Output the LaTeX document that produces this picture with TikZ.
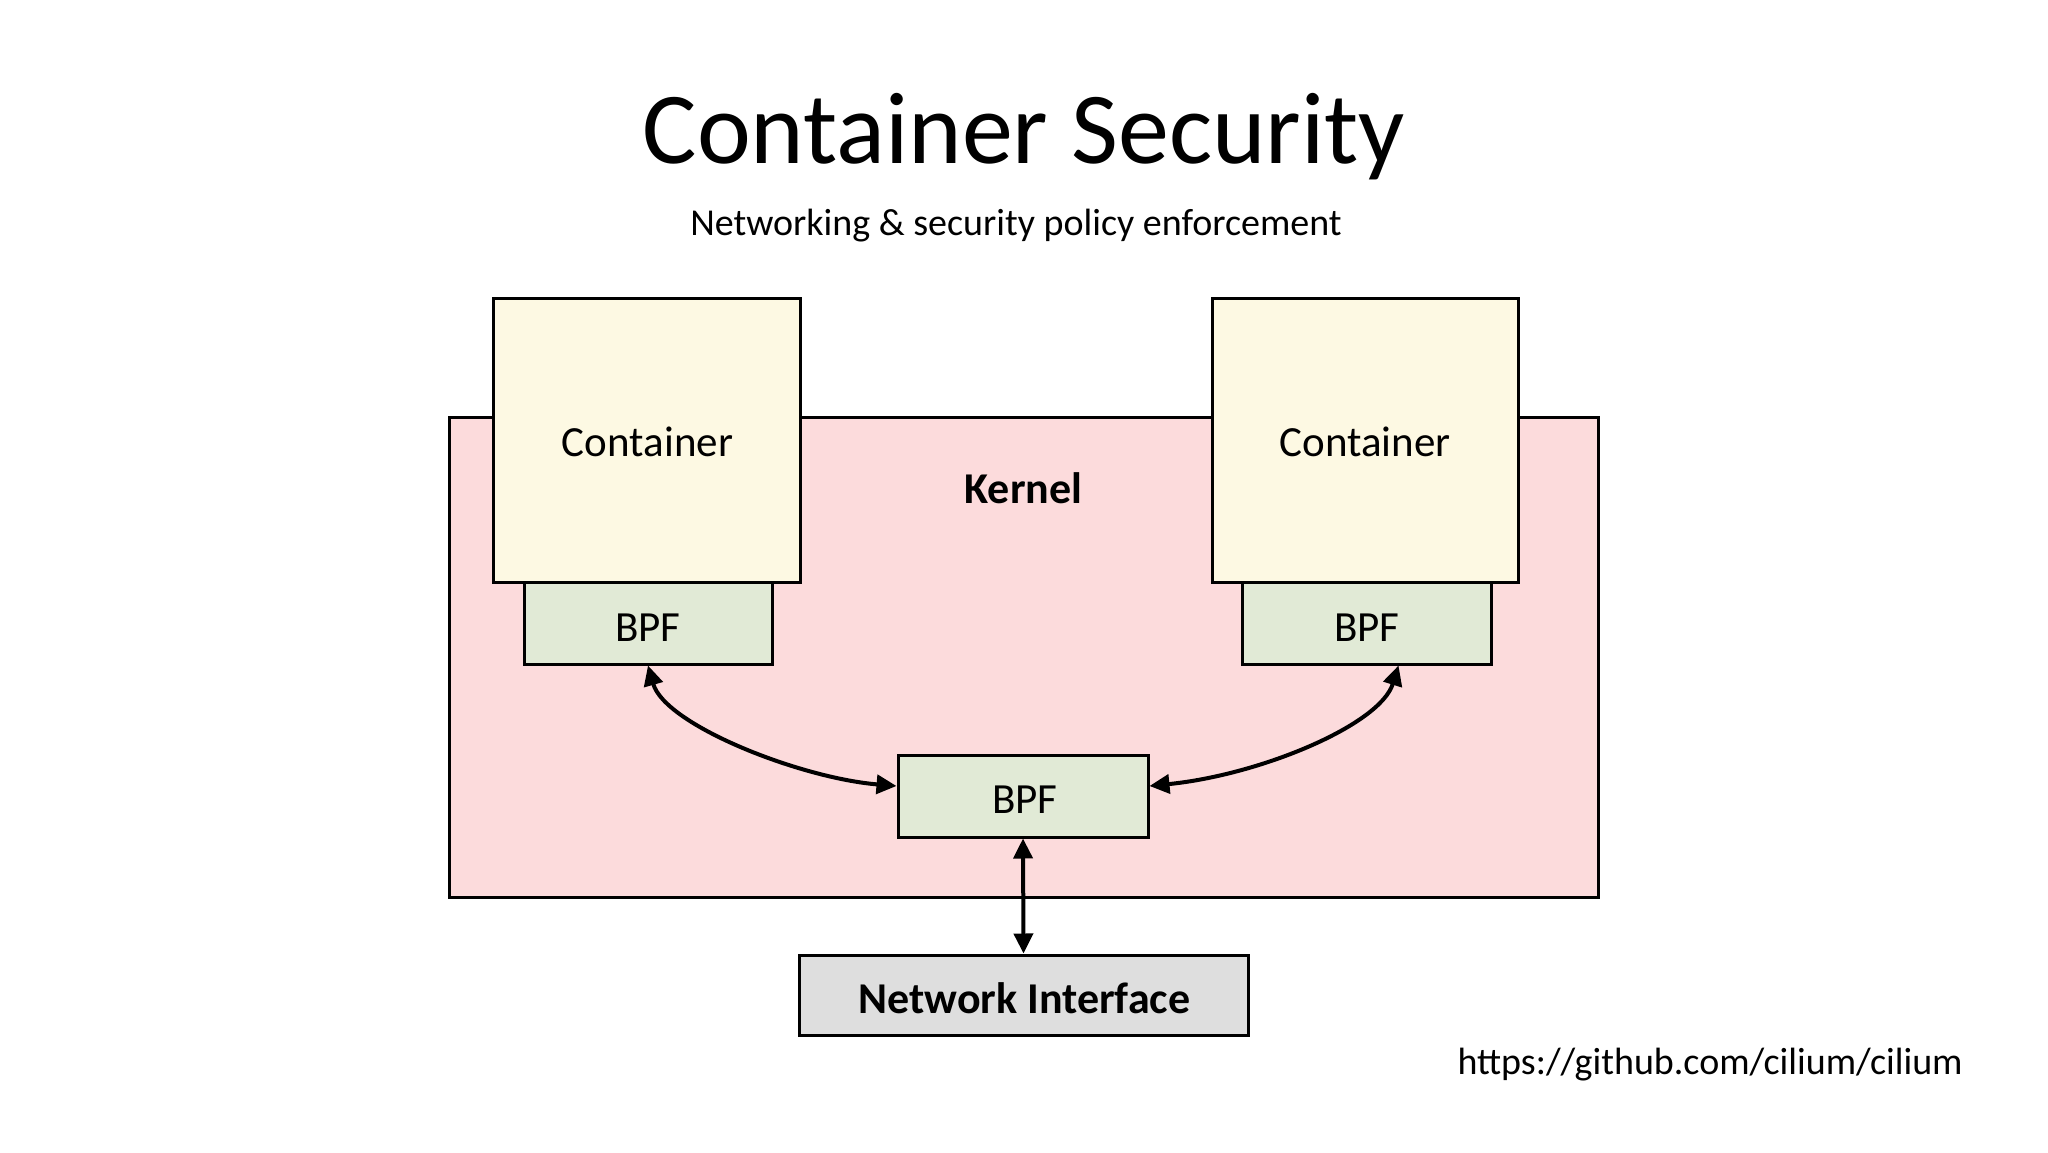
\documentclass[tikz,border=0pt]{standalone}
\usepackage{fontspec}
\setmainfont{Carlito}
\usetikzlibrary{arrows.meta}
\definecolor{contfill}{HTML}{FDF9E3}
\definecolor{bpffill}{HTML}{E1EAD6}
\definecolor{kernfill}{HTML}{FCDBDC}
\definecolor{nifill}{HTML}{DEDEDE}
\begin{document}
\begin{tikzpicture}[x=1pt,y=-1pt,
  box/.style={draw=black, line width=3pt, inner sep=0pt, rectangle},
  lbl/.style={anchor=base, inner sep=0pt, font=\fontsize{43}{50}\selectfont},
  blbl/.style={anchor=base, inner sep=0pt, font=\fontsize{44}{50}\selectfont\bfseries},
  conn/.style={line width=4pt, {Triangle[length=20pt,width=19pt]}-{Triangle[length=20pt,width=19pt]}}]
\fill[white] (0,0) rectangle (2048,1153);
\useasboundingbox (0,0) rectangle (2048,1153);
% title
\node[anchor=base, inner sep=0pt, font=\fontsize{102}{110}\selectfont] (title) at (1024,164) {Container Security};
\node[anchor=base, inner sep=0pt, font=\fontsize{38}{44}\selectfont] (subtitle) at (1016,235) {Networking \& security policy enforcement};
% kernel
\node[box, fill=kernfill, minimum width=1149pt, minimum height=480pt] (kernel) at (1023.5,657) {};
% containers
\node[box, fill=contfill, minimum width=307pt, minimum height=284pt] (lcont) at (646.5,440) {};
\node[box, fill=contfill, minimum width=306pt, minimum height=284pt] (rcont) at (1365,440) {};
% BPF boxes
\node[box, fill=bpffill, minimum width=248pt, minimum height=82pt] (lbpf) at (648,623) {};
\node[box, fill=bpffill, minimum width=249pt, minimum height=82pt] (rbpf) at (1366.5,623) {};
\node[box, fill=bpffill, minimum width=250pt, minimum height=82pt] (cbpf) at (1023,796) {};
% network interface
\node[box, fill=nifill, minimum width=449pt, minimum height=80pt] (ni) at (1023.5,995) {};
% labels
\node[lbl] (lcontlbl) at (647.5,456.5) {Container};
\node[lbl] (rcontlbl) at (1365,456.5) {Container};
\node[blbl] (kernlbl) at (1023.5,503) {Kernel};
\node[lbl] (lbpflbl) at (648,641) {BPF};
\node[lbl] (rbpflbl) at (1367,641) {BPF};
\node[lbl] (cbpflbl) at (1025,813) {BPF};
\node[blbl] (nilbl) at (1024.5,1013) {Network Interface};
\node[anchor=base east, inner sep=0pt, font=\fontsize{38}{44}\selectfont] (url) at (1963,1074) {https://github.com/cilium/cilium};
% connectors
\draw[conn] (lbpf.south) .. controls (665,725) and (800,778) .. ([yshift=10pt]cbpf.west);
\draw[conn] ([xshift=32pt]rbpf.south) .. controls (1380,725) and (1260,775) .. ([yshift=10pt]cbpf.east);
\draw[conn] (cbpf.south) -- (ni.north);
\end{tikzpicture}
\end{document}
